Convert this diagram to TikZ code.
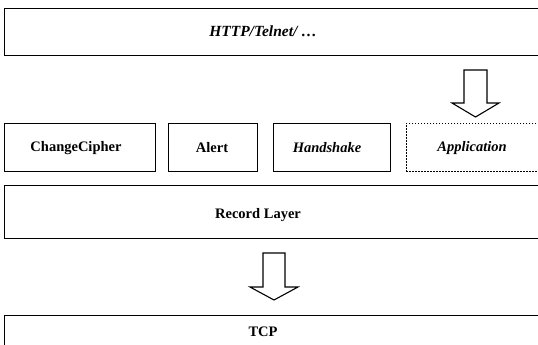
\documentclass[tikz,border=0pt]{standalone}
\usepackage{fontspec}
\setmainfont{Liberation Serif}
\begin{document}
\begin{tikzpicture}[x=1pt,y=-1pt,
  box/.style={draw=black, line width=1.1pt, rectangle, inner sep=0pt, anchor=north west},
  dotbox/.style={draw=black, line width=0.9pt, dash pattern=on 1.2pt off 1.8pt, rectangle, inner sep=0pt, anchor=north west},
  lbl/.style={font=\fontsize{14.5}{16}\selectfont\bfseries, inner sep=0pt},
  ilbl/.style={font=\fontsize{14.5}{16}\selectfont\bfseries\itshape, inner sep=0pt},
  blockarrow/.style={draw=black, line width=1.1pt, fill=white, line join=miter}]
\useasboundingbox (0,0) rectangle (538,345);
\clip (0,0) rectangle (538,345);
% boxes
\node[box, minimum width=545pt, minimum height=47pt] (http) at (4,8) {};
\node[box, minimum width=151pt, minimum height=48pt] (cc) at (4,123) {};
\node[box, minimum width=89pt, minimum height=48pt] (alert) at (168,123) {};
\node[box, minimum width=117pt, minimum height=48pt] (hs) at (273,123) {};
\node[dotbox, minimum width=140pt, minimum height=48pt] (app) at (406,123) {};
\node[box, minimum width=545pt, minimum height=53pt] (rec) at (4,185) {};
\node[box, minimum width=545pt, minimum height=45pt] (tcp) at (4,315) {};
% labels
\node[ilbl, font=\fontsize{15.5}{17}\selectfont\bfseries\itshape] (thttp) at (263,31) {HTTP/Telnet/ \dots};
\node[lbl] (tcc) at (76,148) {ChangeCipher};
\node[lbl] (talert) at (212,148) {Alert};
\node[ilbl] (ths) at (327,148) {Handshake};
\node[ilbl] (tapp) at (472,148) {Application};
\node[lbl] (trec) at (258,215) {Record Layer};
\node[lbl] (ttcp) at (263,332) {TCP};
% block arrows
\coordinate (a1) at (475.5,70);
\coordinate (a2) at (274,253);
\draw[blockarrow] (a1) ++(-11.5,0) -- ++(23,0) -- ++(0,33) -- ++(12,0)
  -- ++(-23.5,14) -- ++(-23.5,-14) -- ++(12,0) -- cycle;
\draw[blockarrow] (a2) ++(-11,0) -- ++(22,0) -- ++(0,34) -- ++(13,0)
  -- ++(-24,13) -- ++(-24,-13) -- ++(13,0) -- cycle;
\end{tikzpicture}
\end{document}
